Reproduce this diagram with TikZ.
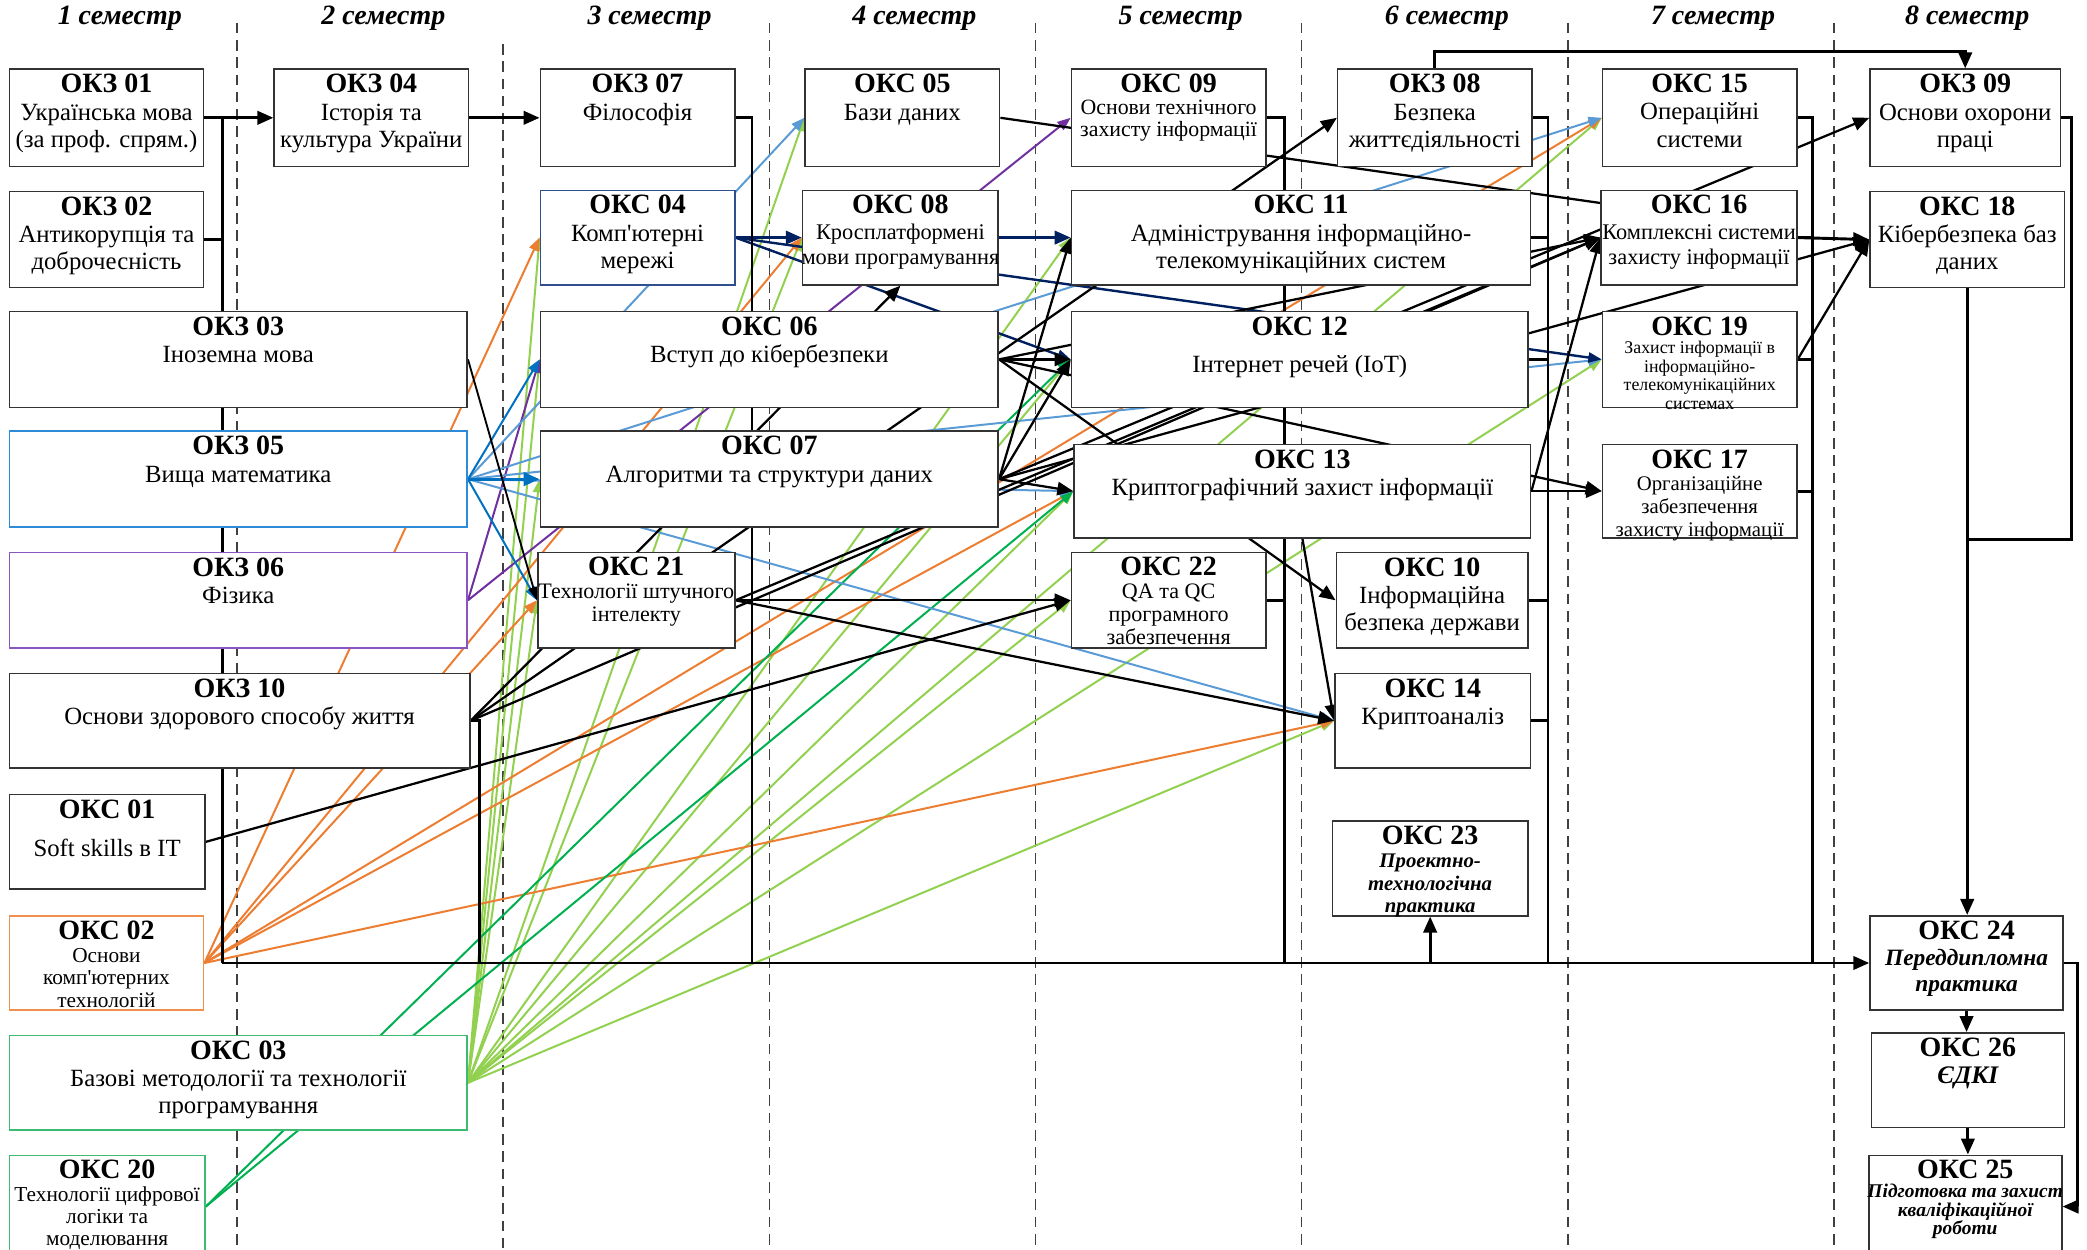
\documentclass[tikz,border=0pt]{standalone}
\usepackage{fontspec}
\setmainfont{Liberation Serif}[Ligatures=TeXOff]
\usetikzlibrary{arrows.meta,fit,backgrounds,calc}
\definecolor{orng}{HTML}{ED7D31}
\definecolor{lgrn}{HTML}{92D050}
\definecolor{dgrn}{HTML}{00B050}
\definecolor{lblu}{HTML}{5B9BD5}
\definecolor{blu}{HTML}{0070C0}
\definecolor{purp}{HTML}{7030A0}
\definecolor{navy}{HTML}{002060}
\definecolor{bbox}{HTML}{2E8BD8}
\definecolor{pbox}{HTML}{8A55C0}
\definecolor{nbox}{HTML}{2F4F8F}
\definecolor{obox}{HTML}{F0904F}
\definecolor{gbox}{HTML}{3DBB70}
\tikzset{
  box/.style={draw=black!80, line width=0.6pt, fill=white, inner sep=0pt},
  txt/.style={align=center, inner sep=0pt, yshift=-2pt, font=\fontsize{9.3}{10.2}\selectfont},
  sem/.style={font=\fontsize{10.5}{12}\selectfont\bfseries\itshape, inner sep=0pt},
  dsh/.style={black!75, line width=0.5pt, dash pattern=on 4pt off 2.5pt},
  bus/.style={line width=1.1pt, black},
  blk/.style={line width=0.85pt, black},
  col/.style={line width=0.75pt},
  ab/.style={-{Triangle[length=6pt,width=5pt]}},
  ac/.style={-{Triangle[length=5pt,width=3.8pt]}},
}
\newcommand\T[1]{{\fontsize{10.5}{10}\selectfont\bfseries\upshape #1}}
\newcommand\cb[6][]{%
  \node[box,#1,fit={#3 #4}] (#2) {};
  \node[txt,anchor=north,#5] (#2-t) at (#2.north) {#6};}
\begin{document}
\begin{tikzpicture}[x=0.5pt,y=-0.5pt]
\useasboundingbox (0,0) rectangle (1568,939);
% semester headers
\node[sem] (s1) at (90,14) {1 семестр};
\node[sem] (s2) at (288,14) {2 семестр};
\node[sem] (s3) at (488,14) {3 семестр};
\node[sem] (s4) at (687,14) {4 семестр};
\node[sem] (s5) at (887,14) {5 семестр};
\node[sem] (s6) at (1087,14) {6 семестр};
\node[sem] (s7) at (1287,14) {7 семестр};
\node[sem] (s8) at (1478,14) {8 семестр};
% column 1
\cb{okz01}{(7,52)}{(153,125)}{}{\T{ОКЗ 01}\\Українська мова\\(за проф. спрям.)}
\cb{okz02}{(7,144)}{(153,216)}{}{\T{ОКЗ 02}\\Антикорупція та\\доброчесність}
\cb{okz03}{(7,234)}{(351,306)}{}{\T{ОКЗ 03}\\Іноземна мова}
\cb[draw=bbox]{okz05}{(7,324)}{(351,396)}{}{\T{ОКЗ 05}\\Вища математика}
\cb[draw=pbox]{okz06}{(7,415)}{(351,487)}{}{\T{ОКЗ 06}\\Фізика}
\cb{okz10}{(7,506)}{(353,577)}{}{\T{ОКЗ 10}\\Основи здорового способу життя}
\cb{okc01}{(7,597)}{(154,668)}{}{\T{ОКС 01}\\[4pt]Soft skills в IT}
\cb[draw=obox]{okc02}{(7,688)}{(153,759)}{font=\fontsize{8}{8.5}\selectfont}{\T{ОКС 02}\\Основи\\комп'ютерних\\технологій}
\cb[draw=gbox]{okc03}{(7,778)}{(351,849)}{}{\T{ОКС 03}\\Базові методології та технології\\програмування}
\cb[draw=gbox]{okc20}{(7,868)}{(154,945)}{font=\fontsize{8}{8.3}\selectfont}{\T{ОКС 20}\\Технології цифрової\\логіки та\\моделювання}
% column 2-3
\cb{okz04}{(206,52)}{(352,125)}{}{\T{ОКЗ 04}\\Історія та\\культура України}
\cb{okz07}{(406,52)}{(552,125)}{}{\T{ОКЗ 07}\\Філософія}
\cb[draw=nbox]{okc04}{(406,143)}{(552,214)}{}{\T{ОКС 04}\\Комп'ютерні\\мережі}
\cb{okc06}{(406,234)}{(750,306)}{}{\T{ОКС 06}\\Вступ до кібербезпеки}
\cb{okc07}{(406,324)}{(750,396)}{}{\T{ОКС 07}\\Алгоритми та структури даних}
\cb{okc21}{(404,415)}{(552,487)}{font=\fontsize{8.3}{8.6}\selectfont}{\T{ОКС 21}\\Технології штучного\\інтелекту}
% column 4-5
\cb{okc05}{(605,52)}{(751,125)}{}{\T{ОКС 05}\\Бази даних}
\cb{okc08}{(603,143)}{(750,214)}{font=\fontsize{8.4}{9.5}\selectfont}{\T{ОКС 08}\\Кросплатформені\\мови програмування}
\cb{okc09}{(805,52)}{(951,125)}{font=\fontsize{8.2}{8.2}\selectfont}{\T{ОКС 09}\\Основи технічного\\захисту інформації}
\cb{okc11}{(805,143)}{(1150,214)}{}{\T{ОКС 11}\\Адміністрування інформаційно-\\телекомунікаційних систем}
\cb{okc12}{(805,234)}{(1148,306)}{}{\T{ОКС 12}\\[4pt]Інтернет речей (IoT)}
\cb{okc13}{(807,334)}{(1150,404)}{}{\T{ОКС 13}\\Криптографічний захист інформації}
\cb{okc22}{(805,415)}{(951,487)}{font=\fontsize{8.3}{8.6}\selectfont}{\T{ОКС 22}\\QA та QC\\програмного\\забезпечення}
% column 6
\cb{okz08}{(1005,52)}{(1151,125)}{}{\T{ОКЗ 08}\\Безпека\\життєдіяльності}
\cb{okc10}{(1004,415)}{(1148,487)}{}{\T{ОКС 10}\\Інформаційна\\безпека держави}
\cb{okc14}{(1003,506)}{(1150,577)}{}{\T{ОКС 14}\\Криптоаналіз}
\cb{okc23}{(1001,617)}{(1148,688)}{font=\fontsize{7.8}{8.5}\selectfont\bfseries\itshape}{\T{ОКС 23}\\Проектно-\\технологічна\\практика}
% column 7
\cb{okc15}{(1204,52)}{(1350,125)}{}{\T{ОКС 15}\\Операційні\\системи}
\cb{okc16}{(1203,143)}{(1350,214)}{font=\fontsize{8.4}{9.5}\selectfont}{\T{ОКС 16}\\Комплексні системи\\захисту інформації}
\cb{okc19}{(1204,234)}{(1350,306)}{font=\fontsize{6.7}{7}\selectfont}{\T{ОКС 19}\\Захист інформації в\\інформаційно-\\телекомунікаційних\\системах}
\cb{okc17}{(1204,334)}{(1350,404)}{font=\fontsize{7.8}{8.5}\selectfont}{\T{ОКС 17}\\Організаційне\\забезпечення\\захисту інформації}
% column 8
\cb{okz09}{(1405,52)}{(1548,125)}{}{\T{ОКЗ 09}\\Основи охорони\\праці}
\cb{okc18}{(1405,144)}{(1551,216)}{}{\T{ОКС 18}\\Кібербезпека баз\\даних}
\cb{okc24}{(1405,688)}{(1550,759)}{font=\fontsize{8.8}{9.8}\selectfont\bfseries\itshape}{\T{ОКС 24}\\Переддипломна\\практика}
\cb{okc26}{(1406,776)}{(1551,847)}{font=\fontsize{9.5}{10}\selectfont\bfseries\itshape}{\T{ОКС 26}\\ЄДКІ}
\cb{okc25}{(1404,868)}{(1549,945)}{font=\fontsize{7.3}{7}\selectfont\bfseries\itshape}{\T{ОКС 25}\\Підготовка та захист\\кваліфікаційної\\роботи}
% bus coordinates
\coordinate (v1t) at (167,88.5);
\coordinate (v1) at (167,723.5);
\coordinate (v2) at (360,723.5);
\coordinate (v3) at (565,723.5);
\coordinate (v5) at (965,723.5);
\coordinate (v6) at (1163,723.5);
\coordinate (v7) at (1362,723.5);
\coordinate (r1) at (1556,405);
\begin{pgfonlayer}{background}
\foreach \x/\y in {178/17,378/33,578/17,778/17,978/17,1178/17,1378/17}
  \draw[dsh] (\x,\y) -- (\x,939);
% coloured connectors
\foreach \t in {okc04,okc06,okc07,okc21,okc05,okc08,okc11,okc12,okc13,okc22,okc14,okc15,okc19}
  \draw[col,lgrn,ac] (okc03.east) -- (\t.west);
\foreach \t in {okc04,okc08,okc21,okc13,okc14,okc15}
  \draw[col,orng,ac] (okc02.east) -- (\t.west);
\foreach \t in {okc12,okc13}
  \draw[col,dgrn,ac] (okc20.east) -- (\t.west);
\foreach \t in {okc06,okc09}
  \draw[col,purp,ac] (okz06.east) -- (\t.west);
\foreach \t in {okc05,okc15,okc19,okc13,okc14}
  \draw[col,lblu,ac] (okz05.east) -- (\t.west);
\foreach \t in {okc06,okc21}
  \draw[col,blu,ac] (okz05.east) -- (\t.west);
\draw[blu,line width=1.2pt,ab] (okz05.east) -- (okc07.west);
\draw[navy,line width=1.1pt,ab] (okc04.east) -- (okc08.west);
\draw[navy,line width=1.1pt,ab] (okc08.east) -- (okc11.west);
\foreach \t in {okc12,okc19}
  \draw[navy,line width=0.9pt,ac] (okc04.east) -- (\t.west);
% black connectors
\draw[black,line width=0.7pt,ac] (okz03.east) -- (okc21.west);
\draw[blk,ab] (okc01.east) -- (okc22.west);
\draw[blk,ab] (okz10.east) -- (okz08.west);
\draw[blk,ab] (okz10.east) -- (okc16.west);
\draw[blk,ab] (okz10.east) -- (okc08.south);
\draw[blk,ab] (okc21.east) -- (okc22.west);
\draw[blk,ab] (okc21.east) -- (okc14.west);
\draw[blk,ab] (okc21.east) -- (okc16.west);
\draw[blk,ab] (okc06.east) -- (okc12.west);
\draw[blk,ab] (okc06.east) -- (okc16.west);
\draw[blk,ab] (okc06.east) -- (okc10.west);
\draw[blk,ab] (okc06.east) -- (okc17.west);
\draw[blk,ab] (okc07.east) -- (okc11.west);
\draw[blk,ab] (okc07.east) -- (okc12.west);
\draw[blk,ab] (okc07.east) -- (okc13.west);
\draw[blk,ab] (okc07.east) -- (okc18.west);
\draw[blk,ab] (okc07.east) -- (okz09.west);
\draw[blk,ab] (okc13.east) -- (okc16.west);
\draw[blk,ab] (okc13.east) -- (okc17.west);
\draw[blk,ab] (okc13.south) -- (okc14.west);
\draw[bus,ab] (okc16.east) -- (okc18.west);
\draw[blk,ab] (okc19.east) -- (okc18.west);
\draw[blk] (okc05.east) -- ([yshift=13pt]okc16.west);
% bus lines
\draw[bus,ab] (okz01.east) -- (okz04.west);
\draw[bus] (v1t) -- (v1);
\draw[bus] (okz02.east) -- (okz02.east -| v1);
\draw[bus,ab] (v1) -- (okc24.west);
\draw[bus,ab] (okz04.east) -- (okz07.west);
\draw[bus] (okz07.east) -| (v3);
\draw[bus] (okz10.east) -| (v2);
\draw[bus] (okc09.east) -| (v5);
\draw[bus] (okc22.east) -- (okc22.east -| v5);
\draw[bus] (okz08.east) -| (v6);
\foreach \s in {okc11,okc12,okc10,okc14}
  \draw[bus] (\s.east) -- (\s.east -| v6);
\draw[bus] (okc15.east) -| (v7);
\foreach \s in {okc16,okc19,okc17}
  \draw[bus] (\s.east) -- (\s.east -| v7);
\draw[bus,ab] (okz08.north) -- ++(0,-13) -| (okz09.north);
\draw[bus,ab] (okc18.south) -- (okc18.south |- okc24.north);
\draw[bus] (okz09.east) -| (r1) -- (r1 -| okc18.south);
\draw[bus,ab] (okc24.south) -- (okc24.south |- okc26.north);
\draw[bus,ab] (okc26.south) -- (okc26.south |- okc25.north);
\draw[bus,ab] (okc24.east) -- ++(10,0) |- (okc25.east);
\draw[bus,ab] (okc23.south |- v1) -- (okc23.south);
\end{pgfonlayer}
\end{tikzpicture}
\end{document}
